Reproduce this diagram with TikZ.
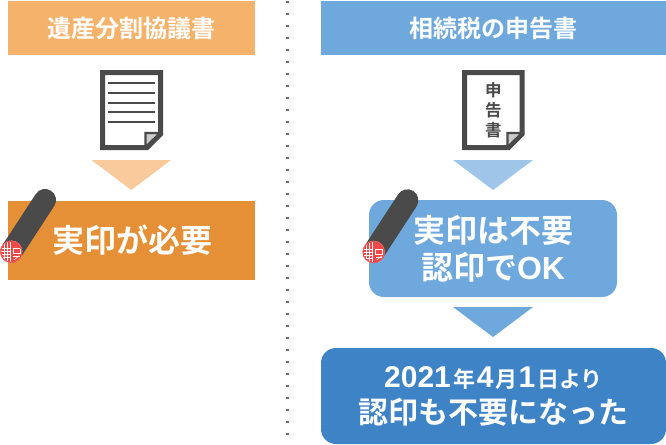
\documentclass[tikz,border=0pt]{standalone}
\usepackage{fontspec}
\setmainfont{Liberation Sans}
\newfontfamily\cjk{Noto Sans CJK JP}[BoldFont={* Bold}]
\newfontfamily\lat{Liberation Sans}
\usetikzlibrary{calc}
\definecolor{orA}{HTML}{F5B26B}
\definecolor{orB}{HTML}{E59036}
\definecolor{orC}{HTML}{F9CB9C}
\definecolor{blA}{HTML}{6FA8DC}
\definecolor{blB}{HTML}{9FC5E8}
\definecolor{blC}{HTML}{3F83C7}
\definecolor{ink}{HTML}{4A4A4A}
\definecolor{stampred}{HTML}{F04848}
\tikzset{
  x=1pt,y=-1pt,
  box/.style={inner sep=0pt,align=center,text=white,font=\cjk\bfseries},
  paper/.style={draw=ink,line width=5pt,fill=white,miter limit=10},
  curl/.style={draw=ink,line width=2.2pt,fill=black!20,line join=miter},
  docline/.style={draw=ink,line width=2pt},
  stampbody/.style={line width=22pt,draw=ink,line cap=round},
  stampface/.style={fill=stampred,draw=stampred!80!white,line width=.5pt},
  stampmark/.style={draw=white,line width=.6pt},
}
\newcommand{\sz}[1]{\fontsize{#1}{#1}\selectfont}
\newcommand{\dg}[1]{{\lat\bfseries\sz{30}#1}}
\newcommand{\stampat}[2]{%
  \coordinate (st) at (#1,#2);
  \coordinate (sttop) at ($(st)+(33.7,-51.7)$);
  \draw[stampbody] (st) -- (sttop);
  \fill[stampface] (st) circle (11);
  \begin{scope}
    \clip (st) circle (10);
    \foreach \dy in {-3,0,3,6}
      \draw[stampmark] ($(st)+(-10,\dy)$) -- ++(9,0);
    \foreach \dx in {-7,-4,-1}
      \draw[stampmark] ($(st)+(\dx,-10)$) -- ++(0,20);
    \draw[stampmark] ($(st)+(2,-3)$) -- ++(7,0) -- ++(0,5) -- ++(-7,0) -- cycle;
    \draw[stampmark] ($(st)+(2,5)$) -- ++(7,0);
    \draw[stampmark] ($(st)+(3,8)$) -- ++(5,-4);
  \end{scope}}
\begin{document}
\begin{tikzpicture}
\useasboundingbox[fill=white] (0,0) rectangle (666,444);
% left column
\node[box,fill=orA,minimum width=247,minimum height=54,font=\cjk\bfseries\sz{24}] (lh) at (131.5,28) {遺産分割協議書};
\fill[orC] (91.5,160) -- (171,160) -- (131.3,190) -- cycle;
\node[box,fill=orB,minimum width=247,minimum height=79,font=\cjk\bfseries\sz{32}] (lb) at (131.5,240) {\hspace{1pt}実印が必要};
% document left
\draw[paper] (102.5,72.5) -- (160.5,72.5) -- (160.5,134) -- (147,147.5) -- (102.5,147.5) -- cycle;
\draw[curl] (145.5,147) -- (145.5,133) -- (160,133) -- cycle;
\foreach \y in {83,93,102.5,112,122}
  \draw[docline] (108,\y) -- (155,\y);
\stampat{11.3}{251.7}
% divider
\draw[draw=ink!80,line width=2.4pt,dash pattern=on 2.4pt off 9.6pt] (287.5,1) -- (287.5,444);
% right column
\node[box,fill=blA,minimum width=345,minimum height=54,font=\cjk\bfseries\sz{24}] (rh) at (493.5,28) {相続税の申告書};
\draw[paper] (464.5,72.5) -- (522,72.5) -- (522,134) -- (508.5,147.5) -- (464.5,147.5) -- cycle;
\draw[curl] (507.5,147) -- (507.5,133) -- (522,133) -- cycle;
\node[inner sep=0pt,align=center,text=ink,font=\cjk\bfseries\fontsize{16.5}{20}\selectfont] (rdoc) at (493.3,110.5) {申\\告\\書};
\fill[blB] (453,160) -- (533,160) -- (493,190) -- cycle;
\node[box,fill=blA,rounded corners=15pt,minimum width=248,minimum height=97,font=\cjk\bfseries\sz{32}] (rb) at (493,248.5) {実印は不要\\[5pt]認印で{\lat\bfseries OK}};
\stampat{373.7}{252}
\fill[blA] (453,307) -- (533,307) -- (493,337) -- cycle;
\node[box,fill=blC,rounded corners=15pt,minimum width=345,minimum height=96,font=\cjk\bfseries\sz{30}] (rc) at (493.5,396) {\dg{2021}\hspace{3pt}{\sz{22}年}\hspace{1pt}\dg{4}\hspace{2pt}{\sz{22}月}\hspace{1pt}\dg{1}\hspace{2pt}{\sz{22}日より}\\[6pt]認印も不要になった};
\end{tikzpicture}
\end{document}
